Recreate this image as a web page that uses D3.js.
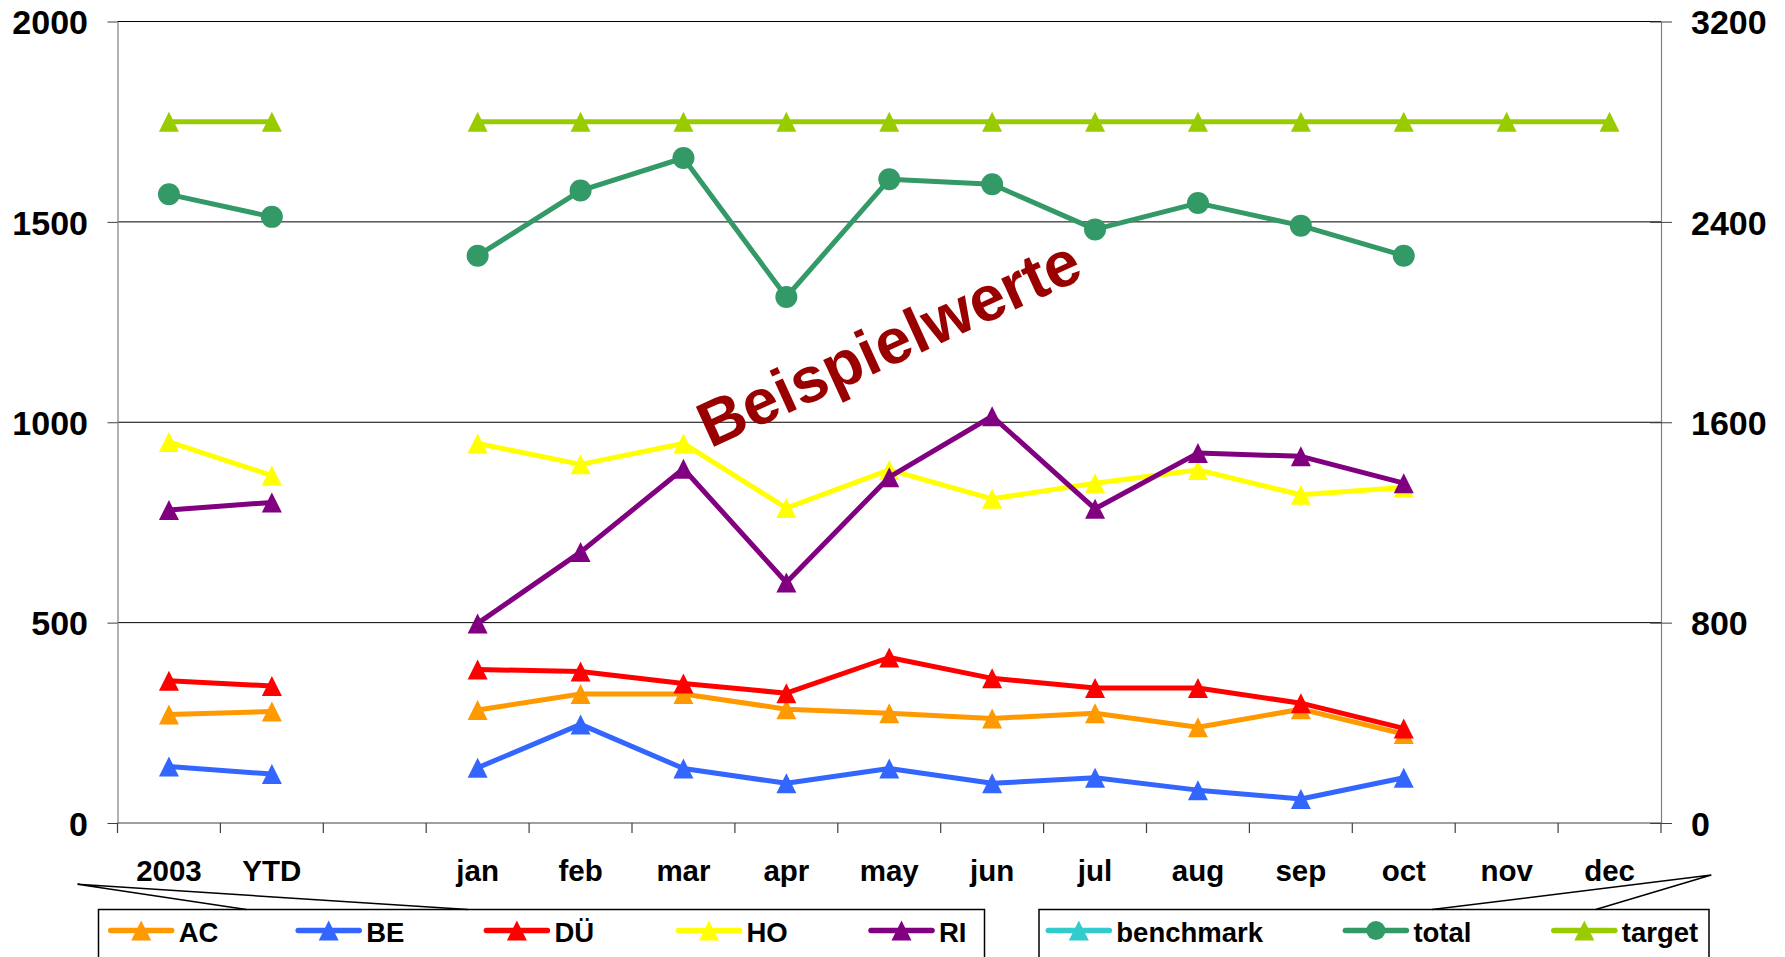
<!DOCTYPE html>
<html>
<head>
<meta charset="utf-8">
<script src="https://cdn.jsdelivr.net/npm/d3@7"></script>
<style>
  html, body { margin: 0; padding: 0; background: #fff; }
  svg { display: block; }
  text { font-family: "Liberation Sans", Arial, Helvetica, sans-serif; font-weight: bold; }
</style>
</head>
<body>
<svg id="chart" width="1785" height="957"></svg>
<script>
// ---- data ----
const categories = ["2003", "YTD", "", "jan", "feb", "mar", "apr", "may", "jun", "jul", "aug", "sep", "oct", "nov", "dec"];

// primary axis series
const acValues = [271, 278, null, 282, 322, 322, 284, 274, 261, 274, 239, 284, 222, null, null];
const beValues = [141, 122, null, 138, 246, 136, 99, 136, 99, 113, 82, 60, 113, null, null];
const duValues = [355, 342, null, 383, 378, 348, 324, 413, 361, 337, 337, 299, 236, null, null];
const hoValues = [951, 867, null, 947, 895, 947, 786, 881, 809, 848, 881, 819, 837, null, null];
const riValues = [781, 800, null, 498, 676, 884, 600, 863, 1015, 784, 923, 915, 848, null, null];

// secondary axis series
const benchmarkValues = [null, null, null, null, null, null, null, null, null, null, null, null, null, null, null];
const totalValues = [2510, 2420, null, 2265, 2525, 2655, 2100, 2570, 2550, 2370, 2475, 2385, 2265, null, null];
const targetValues = [2800, 2800, null, 2800, 2800, 2800, 2800, 2800, 2800, 2800, 2800, 2800, 2800, 2800, 2800];

const leftTicks = [0, 500, 1000, 1500, 2000];
const rightTicks = [0, 800, 1600, 2400, 3200];

const watermark = "Beispielwerte";

// ---- layout ----
const svg = d3.select("#chart");
const plot = { left: 117.5, right: 1661, top: 21.5, bottom: 823 };

const x = d3.scaleBand().domain(categories).range([plot.left, plot.right]).padding(0);
const yL = d3.scaleLinear().domain([0, 2000]).range([plot.bottom, plot.top]);
const yR = d3.scaleLinear().domain([0, 3200]).range([plot.bottom, plot.top]);
const cx = (i) => x(categories[i]) + x.bandwidth() / 2;

const series = [
  { name: "AC",        values: acValues,        color: "#FF9900", marker: "triangle", scale: yL },
  { name: "BE",        values: beValues,        color: "#3366FF", marker: "triangle", scale: yL },
  { name: "DÜ",        values: duValues,        color: "#FF0000", marker: "triangle", scale: yL },
  { name: "HO",        values: hoValues,        color: "#FFFF00", marker: "triangle", scale: yL },
  { name: "RI",        values: riValues,        color: "#800080", marker: "triangle", scale: yL },
  { name: "benchmark", values: benchmarkValues, color: "#33CCCC", marker: "triangle", scale: yR },
  { name: "total",     values: totalValues,     color: "#339966", marker: "circle",   scale: yR },
  { name: "target",    values: targetValues,    color: "#99CC00", marker: "triangle", scale: yR }
];

const TRI = 10; // half size of triangle markers
const trianglePath = `M0,${-TRI}L${TRI},${TRI}L${-TRI},${TRI}Z`;

// ---- gridlines ----
svg.append("g").selectAll("line")
  .data(leftTicks.filter(t => t > 0))
  .join("line")
  .attr("x1", plot.left).attr("x2", plot.right)
  .attr("y1", d => yL(d)).attr("y2", d => yL(d))
  .attr("stroke", "#000").attr("stroke-width", 1);

// ---- left axis ----
const gLeft = svg.append("g")
  .attr("transform", `translate(${plot.left},0)`)
  .call(d3.axisLeft(yL).tickValues(leftTicks).tickSize(10).tickSizeOuter(0).tickPadding(19.5).tickFormat(d3.format("d")));
gLeft.select(".domain").attr("stroke", "#808080").attr("stroke-width", 1.2);
gLeft.selectAll(".tick line").attr("stroke", "#404040");
gLeft.selectAll(".tick text").attr("fill", "#000").style("font-size", "34px").attr("dy", "0.36em");

// ---- right axis ----
const gRight = svg.append("g")
  .attr("transform", `translate(${plot.right},0)`)
  .call(d3.axisRight(yR).tickValues(rightTicks).tickSize(11).tickSizeOuter(0).tickPadding(19).tickFormat(d3.format("d")));
gRight.select(".domain").attr("stroke", "#808080").attr("stroke-width", 1.2);
gRight.selectAll(".tick line").attr("x1", -11).attr("stroke", "#404040");
gRight.selectAll(".tick text").attr("fill", "#000").style("font-size", "34px").attr("dy", "0.36em");

// ---- category axis ----
const gBottom = svg.append("g")
  .attr("transform", `translate(0,${plot.bottom})`)
  .call(d3.axisBottom(x).tickSize(0).tickPadding(37));
gBottom.select(".domain").remove();
gBottom.selectAll(".tick text").attr("fill", "#000").style("font-size", "29.5px");

svg.append("line")
  .attr("x1", plot.left).attr("x2", plot.right)
  .attr("y1", plot.bottom).attr("y2", plot.bottom)
  .attr("stroke", "#404040").attr("stroke-width", 1.2);

const boundaries = categories.map(c => x(c)).concat([x.range()[1]]);
svg.append("g").selectAll("line")
  .data(boundaries)
  .join("line")
  .attr("x1", d => d).attr("x2", d => d)
  .attr("y1", plot.bottom).attr("y2", plot.bottom + 10)
  .attr("stroke", "#404040").attr("stroke-width", 1.2);

// ---- series ----
const gSeries = svg.append("g");
series.forEach(s => {
  const line = d3.line()
    .defined(v => v != null)
    .x((v, i) => cx(i))
    .y(v => s.scale(v));
  gSeries.append("path")
    .attr("d", line(s.values))
    .attr("fill", "none")
    .attr("stroke", s.color)
    .attr("stroke-width", 5)
    .attr("stroke-linejoin", "round");

  const pts = s.values.map((v, i) => ({ v, i })).filter(d => d.v != null);
  if (s.marker === "circle") {
    gSeries.append("g").selectAll("circle")
      .data(pts).join("circle")
      .attr("cx", d => cx(d.i)).attr("cy", d => s.scale(d.v))
      .attr("r", 11).attr("fill", s.color);
  } else {
    gSeries.append("g").selectAll("path")
      .data(pts).join("path")
      .attr("d", trianglePath)
      .attr("transform", d => `translate(${cx(d.i)},${s.scale(d.v)})`)
      .attr("fill", s.color);
  }
});

// ---- legend ----
const legendBoxes = [
  { x: 98.5, y: 909.5, w: 886, h: 70, apex: [77.5, 884.3], feet: [246.4, 467.9],
    items: [["AC", 110.7], ["BE", 298.2], ["DÜ", 486.4], ["HO", 678.5], ["RI", 871]] },
  { x: 1039, y: 909.5, w: 670, h: 70, apex: [1711.3, 875], feet: [1595.7, 1432],
    items: [["benchmark", 1048.3], ["total", 1345.4], ["target", 1553.8]] }
];
const gLegend = svg.append("g");
const sampleLen = 61, rowY = 930.5;
legendBoxes.forEach(b => {
  gLegend.append("rect")
    .attr("x", b.x).attr("y", b.y).attr("width", b.w).attr("height", b.h)
    .attr("fill", "#fff").attr("stroke", "#000").attr("stroke-width", 1.5);
  gLegend.append("path")
    .attr("d", `M${b.feet[0]},${b.y}L${b.apex[0]},${b.apex[1]}L${b.feet[1]},${b.y}`)
    .attr("fill", "none").attr("stroke", "#000").attr("stroke-width", 1.5);
  b.items.forEach(([name, lx]) => {
    const s = series.find(d => d.name === name);
    gLegend.append("line")
      .attr("x1", lx).attr("x2", lx + sampleLen)
      .attr("y1", rowY).attr("y2", rowY)
      .attr("stroke", s.color).attr("stroke-width", 5.5).attr("stroke-linecap", "round");
    if (s.marker === "circle") {
      gLegend.append("circle").attr("cx", lx + sampleLen / 2).attr("cy", rowY).attr("r", 9.5).attr("fill", s.color);
    } else {
      gLegend.append("path").attr("d", trianglePath)
        .attr("transform", `translate(${lx + sampleLen / 2},${rowY})`).attr("fill", s.color);
    }
    gLegend.append("text")
      .attr("x", lx + sampleLen + 7).attr("y", 941.5)
      .style("font-size", "27.5px").attr("fill", "#000")
      .text(name);
  });
});

// ---- watermark ----
svg.append("text")
  .attr("transform", "translate(898,363) rotate(-24.5)")
  .attr("text-anchor", "middle")
  .style("font-size", "64px")
  .attr("fill", "#990000")
  .text(watermark);
</script>
</body>
</html>
